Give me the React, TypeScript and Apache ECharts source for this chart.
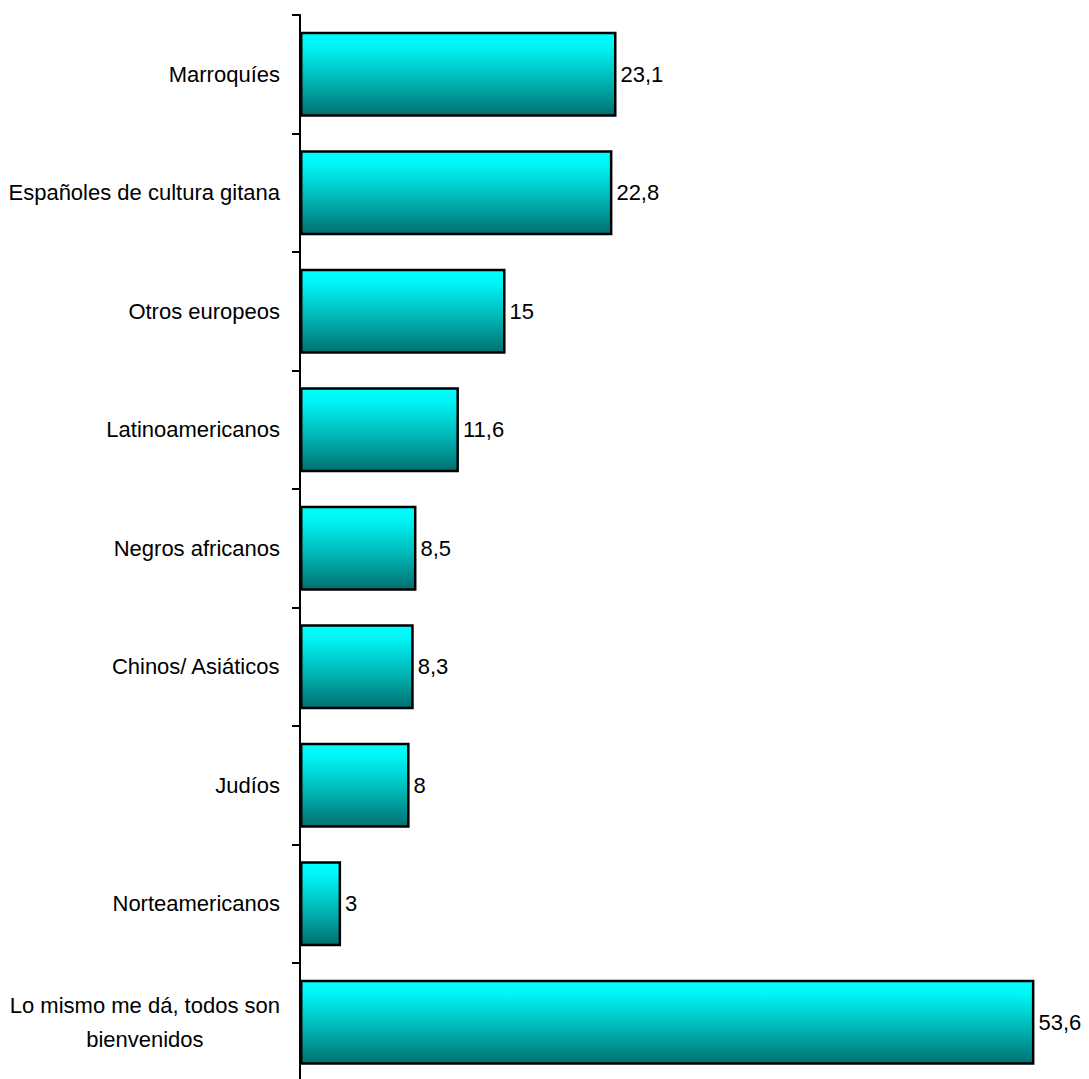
import React, { useEffect, useRef } from "react";
import * as echarts from "echarts";

const categories = [
  "Marroquíes",
  "Españoles de cultura gitana",
  "Otros europeos",
  "Latinoamericanos",
  "Negros africanos",
  "Chinos/ Asiáticos",
  "Judíos",
  "Norteamericanos",
  "Lo mismo me dá, todos son\nbienvenidos",
];
const values = [23.1, 22.8, 15, 11.6, 8.5, 8.3, 8, 3, 53.6];

const FONT = "'Liberation Sans', Arial, sans-serif";
const FS = 22;

export default function App() {
  const ref = useRef<HTMLDivElement>(null);
  useEffect(() => {
    if (!ref.current) return;
    const chart = echarts.init(ref.current, null, { renderer: "svg" });
    chart.setOption({
      animation: false,
      backgroundColor: "#ffffff",
      grid: {
        left: 300,
        top: 15,
        width: 781,
        height: 1066.5,
        containLabel: false,
        outerBoundsMode: "none",
      },
      xAxis: {
        type: "value",
        min: 0,
        max: 57,
        show: false,
      },
      yAxis: {
        type: "category",
        inverse: true,
        data: categories,
        axisLine: { show: true, lineStyle: { color: "#000", width: 2 } },
        axisTick: { show: true, length: 8, lineStyle: { color: "#000", width: 2 } },
        axisLabel: {
          margin: 20,
          color: "#000",
          fontFamily: FONT,
          fontSize: FS,
          formatter: (v: string) =>
            v
              .split("\n")
              .map((s) => "{a|" + s + "}")
              .join("\n"),
          rich: {
            a: { fontFamily: FONT, fontSize: FS, color: "#000", align: "center", lineHeight: 34 },
          },
        },
        splitLine: { show: false },
      },
      series: [
        {
          type: "bar",
          data: values,
          barWidth: 85,
          itemStyle: {
            borderColor: "#000",
            borderWidth: 2.5,
            color: new echarts.graphic.LinearGradient(0, 0, 0, 1, [
              { offset: 0, color: "#00ffff" },
              { offset: 0.15, color: "#00f6f6" },
              { offset: 0.55, color: "#00baba" },
              { offset: 1, color: "#007070" },
            ]),
          },
          label: {
            show: true,
            position: "right",
            distance: 4,
            color: "#000",
            fontFamily: FONT,
            fontSize: FS,
            formatter: (p: any) => String(p.value).replace(".", ","),
          },
        },
      ],
    });
    return () => chart.dispose();
  }, []);
  return <div ref={ref} style={{ width: 1089, height: 1079, position: "absolute", left: 0, top: 0 }} />;
}
